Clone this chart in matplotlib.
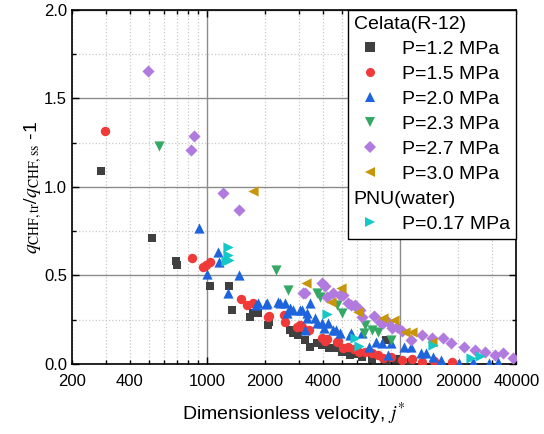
import matplotlib
matplotlib.use('Agg')
import matplotlib.pyplot as plt
from matplotlib.ticker import FixedLocator, FuncFormatter, LogLocator
from matplotlib.lines import Line2D

plt.rcParams['font.family'] = ['Liberation Sans', 'DejaVu Sans']
plt.rcParams['mathtext.fontset'] = 'stix'

# Celata (R-12) data, dimensionless velocity j* vs q_CHF,tr/q_CHF,ss - 1
j_p12 = [283, 522, 690, 700, 1042, 1302, 1346, 1672, 1729, 1850, 2070, 2090, 2694, 2800,
         2960, 3220, 3410, 3700, 3940, 4300, 4590, 5000, 5510, 6000, 6340, 7200, 8420,
         8560, 9500, 11380]
q_p12 = [1.09, 0.71, 0.58, 0.56, 0.44, 0.44, 0.305, 0.267, 0.286, 0.29, 0.22, 0.235, 0.19,
         0.175, 0.165, 0.135, 0.098, 0.12, 0.107, 0.09, 0.089, 0.07, 0.05, 0.055, 0.041,
         0.03, 0.135, 0.023, 0.03, 0.013]

j_p15 = [297, 835, 959, 990, 1040, 1500, 1620, 1740, 2090, 2080, 2500, 2550, 2920, 3035,
         3100, 3400, 3940, 4080, 4170, 4700, 4790, 5090, 5400, 5800, 6100, 6600, 7160,
         7700, 8200, 9000, 10200, 11500, 13000, 15000, 18600]
q_p15 = [1.314, 0.60, 0.549, 0.56, 0.577, 0.365, 0.333, 0.344, 0.27, 0.265, 0.276, 0.236,
         0.212, 0.22, 0.21, 0.19, 0.15, 0.13, 0.14, 0.126, 0.13, 0.09, 0.098, 0.085, 0.069,
         0.07, 0.06, 0.05, 0.032, 0.04, 0.023, 0.03, 0.013, 0.02, 0.013]

j_p20 = [914, 1000, 1143, 1150, 1290, 1470, 1800, 1850, 2030, 2060, 2350, 2390, 2550,
         2600, 2700, 2800, 3035, 3100, 3220, 3290, 3300, 3420, 3630, 3710, 3940, 4020,
         4250, 4520, 4660, 4890, 5510, 5600, 6340, 6940, 7530, 8100, 8710, 8970, 10500,
         11370, 12900, 13700, 14900, 16400, 20100, 24000, 29000, 32000]
q_p20 = [0.765, 0.51, 0.633, 0.577, 0.40, 0.50, 0.333, 0.342, 0.338, 0.345, 0.351, 0.345,
         0.345, 0.286, 0.315, 0.305, 0.305, 0.305, 0.192, 0.258, 0.286, 0.342, 0.258, 0.23,
         0.231, 0.203, 0.231, 0.192, 0.192, 0.173, 0.163, 0.173, 0.173, 0.098, 0.126,
         0.117, 0.05, 0.117, 0.098, 0.098, 0.06, 0.06, 0.041, 0.023, 0.006, 0.01, 0.006,
         0.01]

j_p23 = [564, 2280, 2640, 3710, 3850, 4700, 5000, 6600, 6520, 7200, 7700, 8970]
q_p23 = [1.23, 0.53, 0.417, 0.40, 0.38, 0.333, 0.286, 0.22, 0.175, 0.192, 0.182, 0.135]

j_p27 = [496, 824, 859, 1217, 1472, 3156, 3220, 3940, 4080, 4170, 4520, 4890, 5090, 5400,
         5600, 5830, 5980, 6200, 6340, 7300, 7870, 8200, 8710, 9070, 9650, 10250, 11460,
         13000, 14600, 16700, 18400, 21400, 24600, 27700, 31200, 34300, 38600]
q_p27 = [1.654, 1.21, 1.286, 0.966, 0.869, 0.40, 0.40, 0.455, 0.44, 0.38, 0.40, 0.39,
         0.39, 0.342, 0.333, 0.333, 0.318, 0.305, 0.267, 0.272, 0.239, 0.23, 0.239, 0.205,
         0.21, 0.185, 0.135, 0.164, 0.145, 0.145, 0.117, 0.098, 0.079, 0.07, 0.05, 0.06,
         0.032]

j_p30 = [1727, 3260, 4400, 4960, 6090, 8200, 9280, 10580, 11490, 14700]
q_p30 = [0.977, 0.455, 0.351, 0.427, 0.295, 0.258, 0.248, 0.182, 0.182, 0.126]

# PNU (water)
j_pnu = [1257, 1292, 1292, 1310, 4200, 5830, 6100, 14800, 23400, 26000]
q_pnu = [0.58, 0.615, 0.66, 0.59, 0.28, 0.145, 0.10, 0.11, 0.032, 0.045]

series = [
    (j_p12, q_p12, 's', '#404040', 36, 'P=1.2 MPa'),
    (j_p15, q_p15, 'o', '#f03a3a', 46, 'P=1.5 MPa'),
    (j_p20, q_p20, '^', '#1e64dc', 54, 'P=2.0 MPa'),
    (j_p23, q_p23, 'v', '#35a866', 54, 'P=2.3 MPa'),
    (j_p27, q_p27, 'D', '#b07ade', 38, 'P=2.7 MPa'),
    (j_p30, q_p30, '<', '#c8960a', 54, 'P=3.0 MPa'),
    (j_pnu, q_pnu, '>', '#14c8c8', 54, 'P=0.17 MPa'),
]

fig = plt.figure(figsize=(5.44, 4.34), dpi=100)
ax = fig.add_axes([0.132, 0.161, 0.817, 0.817])

for jx, qy, mk, col, size, lab in series:
    ax.scatter(jx, qy, marker=mk, c=col, s=size, linewidths=0, zorder=3)

ax.set_xscale('log')
ax.set_xlim(200, 40000)
ax.set_ylim(0, 2.0)

ax.xaxis.set_major_locator(LogLocator(base=10, numticks=10))
ax.xaxis.set_minor_locator(LogLocator(base=10, subs=range(2, 10), numticks=20))
shown = {200, 400, 1000, 2000, 4000, 10000, 20000, 40000}
fmt = FuncFormatter(lambda v, p: f'{int(round(v))}' if int(round(v)) in shown else '')
ax.xaxis.set_major_formatter(fmt)
ax.xaxis.set_minor_formatter(fmt)

ax.yaxis.set_major_locator(FixedLocator([0, 0.5, 1.0, 1.5, 2.0]))
ax.yaxis.set_minor_locator(FixedLocator([0.25, 0.75, 1.25, 1.75]))
ax.yaxis.set_major_formatter(FuncFormatter(lambda v, p: f'{v:.1f}'))

ax.grid(which='major', color='#8c8c8c', linestyle='-', linewidth=1.0, zorder=0)
ax.grid(which='minor', color='#c8c8c8', linestyle=':', linewidth=0.9, zorder=0)
ax.set_axisbelow(True)

ax.tick_params(which='both', direction='in', top=True, right=True, labelsize=12,
               width=1.0, color='black')
ax.tick_params(which='major', length=5)
ax.tick_params(which='minor', length=3)
ax.tick_params(axis='x', which='both', pad=7)
for sp in ax.spines.values():
    sp.set_linewidth(1.2)

ax.set_xlabel('Dimensionless velocity, $j^{*}$', fontsize=14, labelpad=9)
ax.set_ylabel(r'$q_{\rm CHF,tr}/q_{\rm CHF,ss}$ -1', fontsize=14, labelpad=0)

# legend with two group headers
handles = [Line2D([], [], linestyle='none', marker=None, label='Celata(R-12)')]
for jx, qy, mk, col, size, lab in series[:6]:
    handles.append(Line2D([], [], linestyle='none', marker=mk, color=col,
                          markeredgewidth=0, markersize=6.5, label=lab))
handles.append(Line2D([], [], linestyle='none', marker=None, label='PNU(water)'))
mk, col, lab = series[6][2], series[6][3], series[6][5]
handles.append(Line2D([], [], linestyle='none', marker=mk, color=col,
                      markeredgewidth=0, markersize=6.5, label=lab))

leg = ax.legend(handles=handles, loc='upper right', bbox_to_anchor=(1.0, 1.0),
                borderaxespad=0, fontsize=14, frameon=True, fancybox=False,
                framealpha=1, edgecolor='black', labelspacing=0.38,
                handlelength=1.7, handletextpad=0.8, borderpad=0.3)
leg.get_frame().set_linewidth(1.0)
leg.set_zorder(5)

# pull header rows to the left edge of the legend
rows = leg._legend_handle_box.get_children()[0].get_children()
for idx in (0, 7):
    rows[idx].sep = 0
    rows[idx].get_children()[0].width = 0

fig.savefig('out.png', dpi=100)
